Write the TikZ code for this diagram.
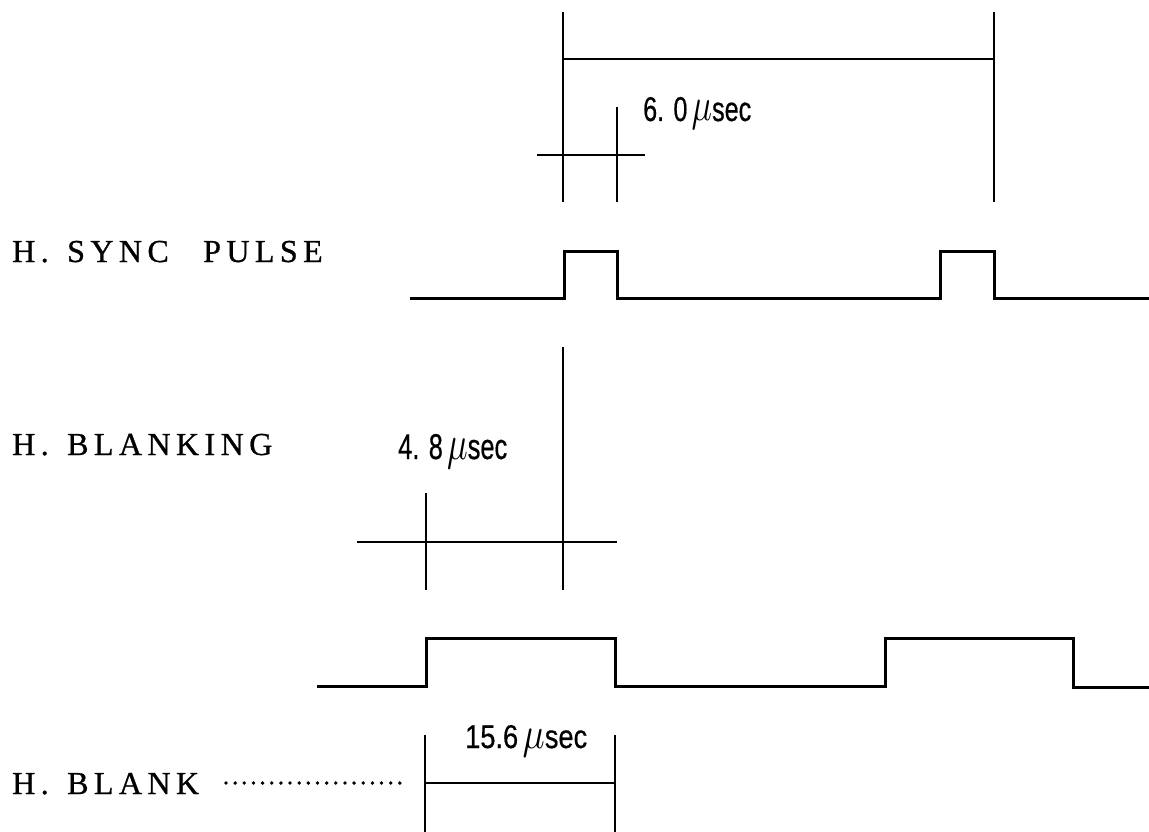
\documentclass[tikz,border=0pt]{standalone}
\usepackage{fontspec}
\setmainfont{Liberation Serif}
\newfontfamily\lblsans[FakeBold=0.6]{Liberation Sans}
\newcommand{\tlab}[3]{\resizebox{#1}{#2}{\lblsans #3}}
\newcommand{\muu}{\,\scalebox{1.35}{$\mu$}}
\begin{document}
\begin{tikzpicture}[x=1pt,y=-1pt,
  thinln/.style={line width=1.5pt},
  sig/.style={line width=3pt, line join=miter},
  lbl/.style={anchor=base west, inner sep=0pt, font=\fontsize{32}{36}\selectfont\addfontfeature{LetterSpace=17,FakeBold=0.8}},
  tlbl/.style={anchor=base west, inner sep=0pt}]
\useasboundingbox (0,0) rectangle (1149,832);
\fill[white] (0,0) rectangle (1149,832);

% labels
\node[lbl] (hs1) at (12,262) {H.};
\node[lbl] (hs2) at (67,262) {SYNC};
\node[lbl] (hs3) at (203,262) {PULSE};
\node[lbl] (hb1) at (12,455) {H.};
\node[lbl] (hb2) at (67,455) {BLANKING};
\node[lbl] (hk1) at (12,794) {H.};
\node[lbl] (hk2) at (67,794) {BLANK};

% time labels
\node[tlbl] (t60) at (643,121) {\tlab{108pt}{24pt}{6. 0\muu sec}};
\node[tlbl] (t48) at (398,459) {\tlab{109pt}{25pt}{4. 8\muu sec}};
\node[tlbl] (t156) at (465,748) {\tlab{122pt}{23pt}{15.6\muu sec}};

% top dimension lines
\draw[thinln] (563,12) -- (563,202);
\draw[thinln] (994,12) -- (994,202);
\draw[thinln] (563,59) -- (994,59);
\draw[thinln] (617,107) -- (617,202);
\draw[thinln] (537,155) -- (645,155);

% sync pulse
\draw[sig] (410,298) -- (564,298) -- (564,251) -- (617,251) -- (617,298)
  -- (940,298) -- (940,251) -- (994,251) -- (994,298) -- (1149,298);

% blanking dimension lines
\draw[thinln] (563,347) -- (563,590);
\draw[thinln] (426,493) -- (426,590);
\draw[thinln] (357,542) -- (617,542);

% blanking pulse
\draw[sig] (317,686) -- (426,686) -- (426,638) -- (615,638) -- (615,686)
  -- (885,686) -- (885,638) -- (1073,638) -- (1073,687) -- (1149,687);

% blank dimension lines
\draw[thinln] (425,735) -- (425,832);
\draw[thinln] (615,735) -- (615,832);
\draw[thinln] (425,783) -- (615,783);
\draw[line width=3.8pt, line cap=round, dash pattern=on 0pt off 9.15pt] (226,783) -- (408,783);
\end{tikzpicture}
\end{document}
